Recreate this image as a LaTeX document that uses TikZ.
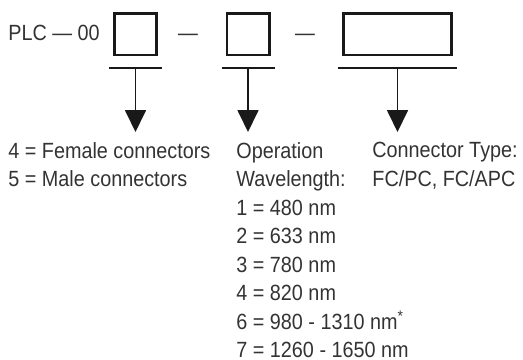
\documentclass[tikz,border=0pt]{standalone}
\usepackage{fontspec}
\setmainfont{Liberation Sans}[FakeStretch=0.9]
\usetikzlibrary{arrows.meta, positioning}

\begin{document}
\begin{tikzpicture}[
  x=0.5pt, y=-0.5pt, font=\fontsize{11}{14.25}\selectfont,
  code/.style={rectangle, draw=black!90, line width=1.3pt, minimum width=21.2pt, minimum height=20.8pt, inner sep=0pt},
  wide/.style={code, minimum width=54.2pt},
  lbl/.style={anchor=base west, align=left, inner sep=0pt, text=black!80},
  list/.style={lbl, anchor=north west},
  bar/.style={draw=black!90, line width=1pt},
  arr/.style={-{Triangle[length=11pt, width=10.5pt]}, draw=black!90, line width=0.9pt}]
\useasboundingbox (0,0) rectangle (523,359);
\node[lbl] (plc) at (8,40) {PLC — 00};
\node[code] (box1) at (135.5,34) {};
\node[lbl, anchor=base] (dash1) at (188,40) {—};
\node[code] (box2) at (248,34) {};
\node[lbl, anchor=base] (dash2) at (305,40) {—};
\node[wide] (box3) at (397.5,34) {};
\coordinate (bar1) at (135.5,68); \coordinate (bar2) at (248,68); \coordinate (bar3) at (397.5,68);
\draw[bar] ([xshift=-2pt]box1.west |- bar1) -- ([xshift=2pt]box1.east |- bar1);
\draw[bar] ([xshift=-2pt]box2.west |- bar2) -- ([xshift=2pt]box2.east |- bar2);
\draw[bar] ([xshift=-2pt]box3.west |- bar3) -- ([xshift=2pt]box3.east |- bar3);
\coordinate (tip1) at (135.5,132); \coordinate (tip2) at (248,132); \coordinate (tip3) at (397.5,132);
\draw[arr] (bar1) -- (tip1); \draw[arr] (bar2) -- (tip2); \draw[arr] (bar3) -- (tip3);
\node[list] (gender) at (8,142) {4 = Female connectors\\5 = Male connectors};
\node[list] (wave) at (236,142) {Operation\\Wavelength:\\1 = 480 nm\\2 = 633 nm\\3 = 780 nm\\4 = 820 nm\\6 = 980 - 1310 nm\textsuperscript{*}\\7 = 1260 - 1650 nm};
\node[list] (ctype) at (372,142) {Connector Type:\\FC/PC, FC/APC};
\end{tikzpicture}
\end{document}
